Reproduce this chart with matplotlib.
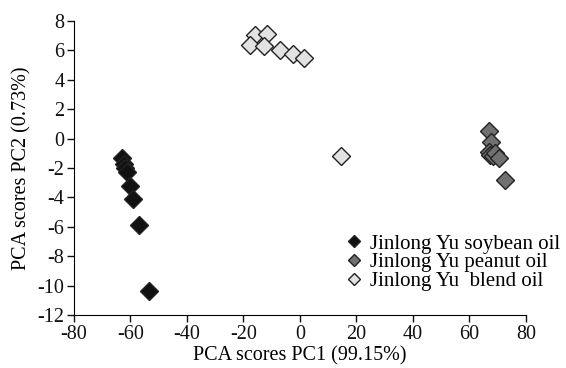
import matplotlib
matplotlib.use('Agg')
import matplotlib.pyplot as plt

# PCA scores
soybean_pc1 = [-63.0, -62.4, -62.0, -61.4, -60.2, -59.2, -56.9, -53.3]
soybean_pc2 = [-1.3, -1.7, -2.0, -2.25, -3.2, -4.1, -5.9, -10.35]
peanut_pc1 = [67.0, 67.6, 66.8, 67.4, 68.3, 69.0, 70.5, 72.6]
peanut_pc2 = [0.5, -0.2, -0.9, -1.1, -1.2, -1.0, -1.3, -2.8]
blend_pc1 = [-15.9, -11.8, -17.7, -12.9, -7.0, -2.3, 1.5, 14.4]
blend_pc2 = [7.05, 7.1, 6.37, 6.3, 6.0, 5.75, 5.46, -1.16]

labels = ["Jinlong Yu soybean oil", "Jinlong Yu peanut oil", "Jinlong Yu  blend oil"]
fills = ["#111111", "#707070", "#e2e2e2"]
x_ticks = [-80, -60, -40, -20, 0, 20, 40, 60, 80]
y_ticks = [-12, -10, -8, -6, -4, -2, 0, 2, 4, 6, 8]

plt.rcParams["font.family"] = ["Liberation Serif", "DejaVu Serif"]
plt.rcParams["axes.unicode_minus"] = False

fig = plt.figure(figsize=(5.66, 3.68), dpi=100)
ax = fig.add_axes([0.1307, 0.144, 0.7986, 0.799])

series = [(soybean_pc1, soybean_pc2), (peanut_pc1, peanut_pc2), (blend_pc1, blend_pc2)]
for (xs, ys), lab, fc in zip(series, labels, fills):
    ax.plot(xs, ys, linestyle="none", marker="D", markersize=8.7,
            markerfacecolor=fc, markeredgecolor="#222222", markeredgewidth=1.0,
            label=lab)

ax.set_xlim(-80, 80)
ax.set_ylim(-12, 8)
ax.set_xticks(x_ticks)
ax.set_yticks(y_ticks)
ax.spines["top"].set_visible(False)
ax.spines["right"].set_visible(False)
ax.tick_params(direction="out", length=5, width=1, labelsize=14.5, colors="#111111", pad=2)
ax.set_xlabel("PCA scores PC1 (99.15%)", fontsize=14.5, labelpad=2)
ax.set_ylabel("PCA scores PC2 (0.73%)", fontsize=14.5, labelpad=4)

ax.legend(loc="upper left", bbox_to_anchor=(0.6, 0.275), frameon=False, fontsize=15,
          markerscale=0.65, handlelength=0.8, handletextpad=0.4, labelspacing=-0.05,
          borderpad=0, borderaxespad=0)

fig.savefig("out.png", dpi=100)
